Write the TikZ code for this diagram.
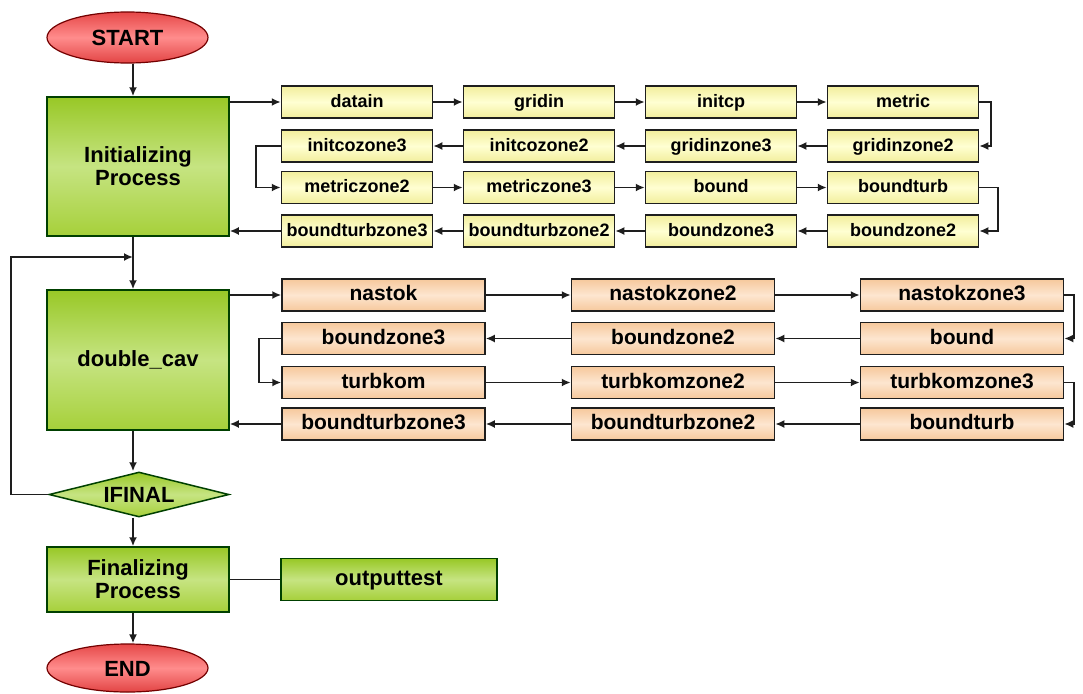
\documentclass[tikz,border=0pt]{standalone}
\usepackage{fontspec}
\setmainfont{Liberation Sans}
\usetikzlibrary{shapes.geometric,arrows.meta}
\definecolor{gtop}{HTML}{98C826}
\definecolor{gmid}{HTML}{C6E482}
\definecolor{gbot}{HTML}{A6D03A}
\definecolor{rtop}{HTML}{E64848}
\definecolor{rmid}{HTML}{FF8C8C}
\definecolor{rbot}{HTML}{E24444}
\definecolor{yedge}{HTML}{F2EE9C}
\definecolor{ymid}{HTML}{FFFFD2}
\definecolor{oedge}{HTML}{F6C89C}
\definecolor{omid}{HTML}{FDE6D0}
\definecolor{lncol}{HTML}{1E1E1E}
\begin{document}
\begin{tikzpicture}[x=1pt,y=-1pt,
  arr/.style={draw=lncol, line width=1.8pt, -{Latex[length=9pt,width=8pt]}},
  ln/.style={draw=lncol, line width=1.8pt},
  gbox/.style={draw=black!75!green, line width=1.5pt, rectangle, top color=gtop, bottom color=gbot, middle color=gmid, inner sep=0pt, align=center, minimum width=182pt, font=\fontsize{22}{23}\selectfont\bfseries},
  term/.style={draw=red!45!black, line width=1.2pt, ellipse, top color=rtop, bottom color=rbot, middle color=rmid, inner sep=0pt, minimum width=161pt, text height=16pt, text depth=0pt, font=\fontsize{22}{23}\selectfont\bfseries},
  ybox/.style={draw=lncol, line width=1.5pt, rectangle, top color=yedge, bottom color=yedge, middle color=ymid, inner sep=0pt, minimum width=151pt, minimum height=32pt, text height=13pt, text depth=3pt, font=\fontsize{18}{19}\selectfont\bfseries},
  obox/.style={draw=lncol, line width=1.5pt, rectangle, top color=oedge, bottom color=oedge, middle color=omid, inner sep=0pt, minimum width=203pt, minimum height=32pt, text height=15pt, text depth=4pt, font=\fontsize{21}{22}\selectfont\bfseries},
  dia/.style={draw=black!75!green, line width=1.5pt, diamond, aspect=4, top color=gtop, bottom color=gbot, middle color=gmid, inner sep=0pt, minimum width=180pt, minimum height=45pt, text height=16pt, text depth=0pt, font=\fontsize{22}{23}\selectfont\bfseries}]
\useasboundingbox (0,0) rectangle (1083,693);
\coordinate (trunk) at (133,0);
% main column
\node[term, minimum height=51pt] (start) at (127.5,37.5) {START};
\node[gbox, minimum height=139pt] (init) at (138,166.5) {Initializing\\Process};
\node[gbox, minimum height=140pt] (dc) at (138,360) {double\_cav};
\node[dia] (ifinal) at (139,494.5) {IFINAL};
\node[gbox, minimum height=65pt] (fin) at (138,579.5) {Finalizing\\Process};
\node[gbox, minimum width=216pt, minimum height=42pt, text height=16pt, text depth=5pt] (out) at (389,579.5) {outputtest};
\node[term, minimum height=48pt] (end) at (127.5,668) {END};
% yellow boxes
\node[ybox] (y11) at (357,102) {datain};
\node[ybox] (y12) at (539,102) {gridin};
\node[ybox] (y13) at (721,102) {initcp};
\node[ybox] (y14) at (903,102) {metric};
\node[ybox] (y21) at (357,146) {initcozone3};
\node[ybox] (y22) at (539,146) {initcozone2};
\node[ybox] (y23) at (721,146) {gridinzone3};
\node[ybox] (y24) at (903,146) {gridinzone2};
\node[ybox] (y31) at (357,187.5) {metriczone2};
\node[ybox] (y32) at (539,187.5) {metriczone3};
\node[ybox] (y33) at (721,187.5) {bound};
\node[ybox] (y34) at (903,187.5) {boundturb};
\node[ybox] (y41) at (357,231) {boundturbzone3};
\node[ybox] (y42) at (539,231) {boundturbzone2};
\node[ybox] (y43) at (721,231) {boundzone3};
\node[ybox] (y44) at (903,231) {boundzone2};
% orange boxes
\node[obox] (o11) at (383.5,295) {nastok};
\node[obox] (o12) at (673,295) {nastokzone2};
\node[obox] (o13) at (962,295) {nastokzone3};
\node[obox] (o21) at (383.5,338.5) {boundzone3};
\node[obox] (o22) at (673,338.5) {boundzone2};
\node[obox] (o23) at (962,338.5) {bound};
\node[obox] (o31) at (383.5,382.5) {turbkom};
\node[obox] (o32) at (673,382.5) {turbkomzone2};
\node[obox] (o33) at (962,382.5) {turbkomzone3};
\node[obox] (o41) at (383.5,424) {boundturbzone3};
\node[obox] (o42) at (673,424) {boundturbzone2};
\node[obox] (o43) at (962,424) {boundturb};
% main trunk
\draw[arr] (start.south -| trunk) -- (init.north -| trunk);
\draw[arr] (init.south -| trunk) -- (dc.north -| trunk);
\draw[arr] (dc.south -| trunk) -- (ifinal.north -| trunk);
\draw[arr] (ifinal.south -| trunk) -- (fin.north -| trunk);
\draw[arr] (fin.south -| trunk) -- (end.north -| trunk);
\coordinate (loopin) at (133,257);
\draw[arr] (ifinal.west) -- ++(-37,0) |- (loopin);
\draw[ln] (fin.east) -- (fin.east -| out.west);
% yellow connectors
\draw[arr] (init.east |- y11.west) -- (y11.west);
\draw[arr] (y11) -- (y12);
\draw[arr] (y12) -- (y13);
\draw[arr] (y13) -- (y14);
\draw[arr] (y14.east) -- ++(12,0) |- (y24.east);
\draw[arr] (y24) -- (y23);
\draw[arr] (y23) -- (y22);
\draw[arr] (y22) -- (y21);
\draw[arr] (y21.west) -- ++(-25,0) |- (y31.west);
\draw[arr] (y31) -- (y32);
\draw[arr] (y32) -- (y33);
\draw[arr] (y33) -- (y34);
\draw[arr] (y34.east) -- ++(19,0) |- (y44.east);
\draw[arr] (y44) -- (y43);
\draw[arr] (y43) -- (y42);
\draw[arr] (y42) -- (y41);
\draw[arr] (y41.west) -- (init.east |- y41.west);
% orange connectors
\draw[arr] (dc.east |- o11.west) -- (o11.west);
\draw[arr] (o11) -- (o12);
\draw[arr] (o12) -- (o13);
\draw[arr] (o13.east) -- ++(10,0) |- (o23.east);
\draw[arr] (o23) -- (o22);
\draw[arr] (o22) -- (o21);
\draw[arr] (o21.west) -- ++(-22,0) |- (o31.west);
\draw[arr] (o31) -- (o32);
\draw[arr] (o32) -- (o33);
\draw[arr] (o33.east) -- ++(10,0) |- (o43.east);
\draw[arr] (o43) -- (o42);
\draw[arr] (o42) -- (o41);
\draw[arr] (o41.west) -- (dc.east |- o41.west);
\end{tikzpicture}
\end{document}
